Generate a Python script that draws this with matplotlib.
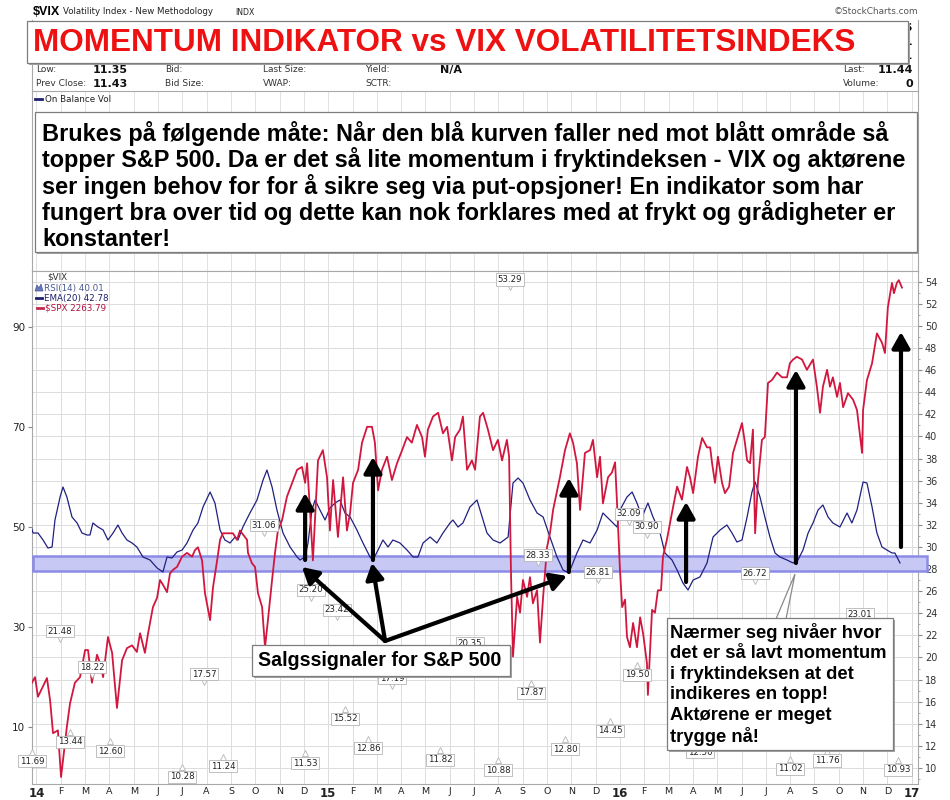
import matplotlib
matplotlib.use('Agg')
import matplotlib.pyplot as plt
from matplotlib.patches import Rectangle, Polygon, FancyArrowPatch
from matplotlib.lines import Line2D
from matplotlib.transforms import ScaledTranslation, blended_transform_factory

# ------------------------------------------------------------------ data
title = 'MOMENTUM INDIKATOR vs VIX VOLATILITETSINDEKS'
note_lines = [
    'Brukes på følgende måte: Når den blå kurven faller ned mot blått område så',
    'topper S&P 500. Da er det så lite momentum i fryktindeksen - VIX og aktørene',
    'ser ingen behov for for å sikre seg via put-opsjoner! En indikator som har',
    'fungert bra over tid og dette kan nok forklares med at frykt og grådigheter er',
    'konstanter!',
]
signal_text = 'Salgssignaler for S&P 500'
callout_lines = [
    'Nærmer seg nivåer hvor',
    'det er så lavt momentum',
    'i fryktindeksen at det',
    'indikeres en topp!',
    'Aktørene er meget',
    'trygge nå!',
]
years = ['14', '15', '16', '17']
month_letters = ['F', 'M', 'A', 'M', 'J', 'J', 'A', 'S', 'O', 'N', 'D']
x_labels = []
for yr in years[:-1]:
    x_labels += [yr] + month_letters
x_labels.append(years[-1])

vix_low = 11.35
vix_prev_close = 11.43
vix_last = 11.44
vix_volume = 0
rsi_last = 40.01
ema_last = 42.78
spx_last = 2263.79

# S&P 500 overlay (t = months since Jan 2014)
spx_t = [-0.19, -0.06, 0.06, 0.43, 0.56, 0.68, 0.88, 1.01, 1.25, 1.38,
         1.58, 1.79, 2.00, 2.12, 2.28, 2.49, 2.61, 2.74, 2.94, 3.11,
         3.31, 3.52, 3.72, 3.93, 4.13, 4.26, 4.46, 4.59, 4.79, 4.96,
         5.08, 5.20, 5.37, 5.49, 5.62, 5.78, 5.99, 6.19, 6.40, 6.52,
         6.64, 6.81, 6.93, 7.14, 7.26, 7.43, 7.55, 7.67, 7.88, 8.08,
         8.25, 8.37, 8.66, 8.70, 8.86, 8.99, 9.11, 9.28, 9.40, 9.52,
         9.69, 9.81, 9.93, 10.10, 10.30, 10.72, 10.92, 11.05, 11.13, 11.25,
         11.37, 11.58, 11.78, 11.95, 12.07, 12.20, 12.40, 12.61, 12.77, 12.90,
         13.02, 13.23, 13.39, 13.60, 13.80, 13.92, 14.05, 14.21, 14.42, 14.62,
         14.83, 15.04, 15.24, 15.44, 15.65, 15.86, 15.98, 16.10, 16.31, 16.52,
         16.72, 16.89, 17.09, 17.22, 17.42, 17.54, 17.71, 17.91, 18.04, 18.24,
         18.37, 18.57, 18.78, 18.98, 19.15, 19.35, 19.44, 19.52, 19.60, 19.77,
         19.89, 20.01, 20.18, 20.30, 20.42, 20.59, 20.71, 20.84, 21.00, 21.12,
         21.25, 21.53, 21.74, 21.94, 22.07, 22.23, 22.36, 22.56, 22.77, 22.89,
         23.06, 23.18, 23.30, 23.51, 23.67, 23.80, 23.88, 24.00, 24.09, 24.21,
         24.29, 24.41, 24.54, 24.70, 24.83, 24.95, 25.11, 25.15, 25.32, 25.44,
         25.56, 25.69, 25.77, 25.93, 26.14, 26.35, 26.55, 26.76, 26.88, 27.01,
         27.21, 27.38, 27.58, 27.71, 27.79, 27.91, 28.03, 28.20, 28.32, 28.49,
         28.65, 28.81, 29.02, 29.14, 29.23, 29.35, 29.47, 29.56, 29.68, 29.84,
         29.96, 30.09, 30.25, 30.46, 30.67, 30.87, 30.99, 31.12, 31.28, 31.49,
         31.69, 31.94, 32.10, 32.23, 32.35, 32.52, 32.64, 32.76, 32.93, 33.05,
         33.18, 33.38, 33.59, 33.75, 33.96, 34.00, 34.16, 34.37, 34.57, 34.78,
         34.90, 35.02, 35.19, 35.27, 35.39, 35.47, 35.60]
spx_v = [1842, 1848, 1827, 1847, 1823, 1788, 1791, 1741, 1795, 1820,
         1842, 1848, 1877, 1877, 1842, 1872, 1863, 1848, 1891, 1874,
         1815, 1866, 1879, 1882, 1875, 1895, 1874, 1895, 1923, 1933,
         1952, 1947, 1939, 1959, 1963, 1966, 1977, 1981, 1977, 1984,
         1987, 1973, 1938, 1909, 1944, 1973, 1995, 2002, 2002, 2002,
         1995, 2005, 1995, 1981, 1970, 1966, 1938, 1923, 1880, 1909,
         1952, 1981, 2005, 2016, 2041, 2070, 2073, 2056, 2077, 2027,
         1973, 2080, 2091, 2062, 2005, 2059, 1998, 2062, 2005, 2024,
         2056, 2070, 2099, 2116, 2116, 2099, 2048, 2070, 2084, 2059,
         2077, 2091, 2105, 2099, 2118, 2105, 2084, 2113, 2127, 2131,
         2109, 2116, 2080, 2105, 2113, 2127, 2070, 2080, 2070, 2127,
         2131, 2113, 2091, 2102, 2080, 2102, 2084, 1957, 1870, 1934,
         1917, 1952, 1934, 1955, 1927, 1941, 1885, 1934, 1987, 2002,
         2027, 2062, 2091, 2109, 2099, 2077, 2027, 2088, 2091, 2102,
         2062, 2084, 2034, 2062, 2067, 2078, 2034, 1963, 1923, 1931,
         1891, 1880, 1906, 1880, 1912, 1895, 1863, 1829, 1920, 1917,
         1941, 1941, 1977, 1995, 2024, 2052, 2038, 2073, 2062, 2045,
         2084, 2104, 2094, 2094, 2077, 2056, 2084, 2056, 2045, 2052,
         2088, 2102, 2120, 2099, 2080, 2077, 2113, 2002, 2059, 2102,
         2105, 2163, 2166, 2174, 2169, 2169, 2184, 2188, 2191, 2188,
         2177, 2188, 2159, 2131, 2159, 2177, 2159, 2169, 2148, 2163,
         2137, 2152, 2145, 2134, 2088, 2134, 2166, 2184, 2216, 2206,
         2195, 2244, 2270, 2259, 2270, 2273, 2265]

# EMA(20) of RSI(14) of VIX
ema_t = [-0.27, -0.14, 0.06, 0.27, 0.47, 0.64, 0.76, 0.97, 1.09, 1.25,
         1.46, 1.67, 1.87, 2.08, 2.20, 2.32, 2.53, 2.74, 2.94, 3.15,
         3.35, 3.52, 3.72, 3.93, 4.13, 4.38, 4.67, 4.96, 5.20, 5.37,
         5.57, 5.78, 5.99, 6.19, 6.44, 6.64, 6.85, 7.14, 7.34, 7.55,
         7.75, 7.96, 8.17, 8.29, 8.49, 8.78, 9.07, 9.32, 9.48, 9.69,
         9.89, 10.14, 10.43, 10.72, 10.84, 11.05, 11.17, 11.33, 11.46, 11.66,
         11.87, 12.07, 12.28, 12.48, 12.69, 12.90, 13.18, 13.43, 13.72, 13.84,
         14.05, 14.25, 14.46, 14.66, 14.95, 15.24, 15.49, 15.69, 15.90, 16.19,
         16.47, 16.72, 17.01, 17.13, 17.34, 17.54, 17.83, 18.12, 18.33, 18.53,
         18.78, 19.07, 19.40, 19.60, 19.81, 20.01, 20.30, 20.59, 20.84, 21.12,
         21.41, 21.66, 21.90, 22.23, 22.48, 22.77, 23.06, 23.30, 23.59, 23.88,
         24.00, 24.29, 24.50, 24.70, 24.91, 25.15, 25.36, 25.65, 25.85, 26.14,
         26.35, 26.59, 26.80, 27.01, 27.29, 27.58, 27.83, 28.12, 28.40, 28.61,
         28.81, 29.02, 29.23, 29.43, 29.56, 29.76, 29.96, 30.17, 30.38, 30.58,
         30.87, 31.12, 31.32, 31.53, 31.74, 31.94, 32.15, 32.35, 32.56, 32.76,
         33.05, 33.34, 33.54, 33.75, 34.00, 34.16, 34.37, 34.57, 34.78, 34.98,
         35.19, 35.31, 35.52]
ema_v = [50.8, 48.8, 48.8, 47.4, 45.8, 46.0, 51.4, 56.0, 58.0, 56.0,
         52.0, 50.8, 48.8, 48.4, 48.4, 50.8, 50.0, 49.4, 47.4, 48.8,
         50.4, 48.8, 47.4, 46.8, 46.0, 44.0, 43.4, 41.8, 41.0, 44.0,
         43.8, 45.0, 45.4, 46.8, 49.4, 50.8, 54.0, 57.0, 54.8, 49.4,
         47.4, 46.8, 48.0, 47.4, 50.0, 52.8, 55.4, 59.4, 61.4, 58.0,
         53.4, 48.8, 46.0, 44.0, 43.4, 44.0, 46.8, 53.4, 55.4, 53.4,
         51.4, 53.8, 54.8, 55.4, 52.8, 52.0, 49.4, 46.8, 44.0, 43.4,
         45.4, 47.4, 46.0, 47.4, 46.8, 45.4, 44.0, 44.0, 46.8, 48.0,
         46.8, 48.8, 50.8, 51.4, 50.0, 50.8, 54.0, 55.4, 52.0, 48.8,
         47.4, 46.8, 48.0, 58.8, 59.8, 58.8, 55.4, 52.8, 52.0, 48.0,
         44.0, 41.4, 40.8, 44.8, 47.4, 46.8, 49.4, 52.8, 51.4, 50.0,
         53.4, 56.0, 57.0, 54.8, 52.0, 54.8, 52.0, 48.8, 44.8, 43.4,
         41.4, 38.8, 37.4, 39.4, 40.0, 42.8, 48.0, 49.4, 50.4, 48.8,
         47.0, 47.4, 52.0, 57.0, 59.0, 56.0, 52.0, 48.0, 44.8, 44.0,
         43.4, 42.8, 43.4, 45.4, 48.8, 50.8, 53.4, 54.4, 52.0, 50.8,
         50.0, 52.8, 50.8, 53.4, 59.0, 58.8, 54.0, 48.8, 46.0, 45.4,
         44.8, 44.8, 42.8]

# VIX high / low price labels
vix_lab_t = [-0.19, 0.97, 1.38, 2.28, 3.02, 5.99, 6.89, 7.67, 9.36, 11.05,
             11.29, 12.36, 12.69, 13.64, 14.62, 16.60, 17.83, 18.98, 19.48, 20.34,
             20.63, 21.74, 23.10, 23.59, 24.37, 24.70, 25.11, 27.29, 29.56, 30.99,
             32.52, 33.88, 35.44]
vix_lab_v = [11.69, 21.48, 13.44, 18.22, 12.60, 10.28, 17.57, 11.24, 31.06, 11.53,
             25.20, 23.42, 15.52, 12.86, 17.19, 11.82, 20.35, 10.88, 53.29, 17.87,
             28.33, 12.80, 26.81, 14.45, 32.09, 19.50, 30.90, 12.50, 26.72, 11.02,
             11.76, 23.01, 10.93]
vix_lab_kind = ['L', 'H', 'L', 'H', 'L', 'L', 'H', 'L', 'H', 'L',
                'H', 'H', 'L', 'L', 'H', 'L', 'H', 'L', 'H', 'L',
                'H', 'L', 'H', 'L', 'H', 'L', 'H', 'L', 'H', 'L',
                'L', 'H', 'L']

# low-momentum band (RSI units)
band_lo, band_hi = 41.2, 44.2

# vertical signal arrows (RSI units)
sig_t = [11.05, 13.84, 21.90, 26.72, 31.24, 35.56]
sig_lo = [43.4, 43.4, 41.0, 39.0, 42.8, 46.0]
sig_hi = [56.8, 64.0, 59.8, 55.0, 81.4, 89.0]

# arrows from the "Salgssignaler" label
diag_origin = (14.34, 27.2)
diag_t = [10.92, 13.80, 21.82]
diag_v = [42.0, 42.8, 40.2]
callout_tip = (31.2, 40.6)

# ------------------------------------------------------------------ layout
W, H = 950, 800
fig = plt.figure(figsize=(9.5, 8), dpi=100)
fig.patch.set_facecolor('white')
plt.rcParams['font.family'] = ['DejaVu Sans']
BOLD = 'Liberation Sans'


def fx(x):
    return x / W


def fy(y):
    return 1 - y / H


def rect_px(x0, y0, x1, y1):
    return [fx(x0), fy(y1), (x1 - x0) / W, (y1 - y0) / H]


def fbox(x0, y0, x1, y1, z=10):
    fig.add_artist(Rectangle((fx(x0 + 2), fy(y1 + 2)), (x1 - x0) / W, (y1 - y0) / H,
                             transform=fig.transFigure, fc='#a3a3a3', ec='none', zorder=z))
    fig.add_artist(Rectangle((fx(x0), fy(y1)), (x1 - x0) / W, (y1 - y0) / H,
                             transform=fig.transFigure, fc='white', ec='#7d7d7d', lw=0.9,
                             zorder=z + 0.1))


X0, X1 = -0.185, 36.26
GRID = '#dcdcdc'
SPINE = '#a8a8a8'

# header
fig.text(fx(33), fy(12), '$VIX', fontsize=9, fontweight='bold', family=BOLD, va='center',
         parse_math=False)
fig.text(fx(63), fy(12), 'Volatility Index - New Methodology', fontsize=6.2, va='center', color='#222')
fig.text(fx(235), fy(12.5), 'INDX', fontsize=5.6, va='center', color='#222')
fig.text(fx(918), fy(12), '©StockCharts.com', fontsize=6.4, va='center', ha='right', color='#555')
for yy, val in [(28, '11.56'), (42, '11.61'), (56, '11.31')]:
    fig.text(fx(913), fy(yy), val, fontsize=8, fontweight='bold', ha='right', va='center', zorder=3)

r1, r2 = 70, 84
lab = dict(fontsize=6.5, va='center', color='#333')
valb = dict(fontsize=8, va='center', fontweight='bold', color='#111')
fig.text(fx(36), fy(r1), 'Low:', **lab)
fig.text(fx(128), fy(r1), f'{vix_low:.2f}', ha='right', **valb)
fig.text(fx(165), fy(r1), 'Bid:', **lab)
fig.text(fx(263), fy(r1), 'Last Size:', **lab)
fig.text(fx(365), fy(r1), 'Yield:', **lab)
fig.text(fx(440), fy(r1), 'N/A', **valb)
fig.text(fx(843), fy(r1), 'Last:', **lab)
fig.text(fx(913), fy(r1), f'{vix_last:.2f}', ha='right', **valb)
fig.text(fx(36), fy(r2), 'Prev Close:', **lab)
fig.text(fx(128), fy(r2), f'{vix_prev_close:.2f}', ha='right', **valb)
fig.text(fx(165), fy(r2), 'Bid Size:', **lab)
fig.text(fx(263), fy(r2), 'VWAP:', **lab)
fig.text(fx(365), fy(r2), 'SCTR:', **lab)
fig.text(fx(843), fy(r2), 'Volume:', **lab)
fig.text(fx(913), fy(r2), f'{vix_volume}', ha='right', **valb)
for xx in (32, 918):
    fig.add_artist(Line2D([fx(xx), fx(xx)], [fy(20), fy(91)], color=SPINE, lw=0.8))

# On Balance Volume panel (empty)
obv = fig.add_axes(rect_px(32, 91, 918, 271))
obv.set_xlim(X0, X1)
obv.set_ylim(0, 1)
obv.set_xticks(range(37))
obv.set_yticks([])
obv.tick_params(length=0, labelbottom=False)
obv.grid(axis='x', color='#e2e2e2', lw=0.7)
for s in obv.spines.values():
    s.set_color(SPINE)
    s.set_linewidth(0.8)
fig.text(fx(45), fy(99), 'On Balance Vol', fontsize=6.3, va='center', color='#222')
fig.add_artist(Line2D([fx(35), fx(42)], [fy(99), fy(99)], color='#1f1f6e', lw=2))

# main price panel: VIX scale on the right
main_rect = rect_px(32, 271, 918, 784)
axv = fig.add_axes(main_rect)
axv.set_xlim(X0, X1)
axv.set_ylim(8.552, 54.977)
axv.yaxis.tick_right()
axv.set_yticks(range(10, 55, 2))
axv.set_yticks(range(9, 55), minor=True)
axv.tick_params(axis='y', which='major', length=3, labelsize=7, labelcolor='#333', color='#888', pad=2)
axv.tick_params(axis='y', which='minor', length=1.5, color='#999')
axv.set_xticks(range(37))
axv.set_xticklabels(x_labels)
axv.tick_params(axis='x', length=0, pad=2.5, labelsize=6.8, labelcolor='#222')
for t in axv.get_xticklabels():
    if t.get_text() in years:
        t.set_fontweight('bold')
        t.set_fontsize(8.5)
axv.grid(True, which='major', color=GRID, lw=0.7)
axv.set_axisbelow(True)
for s in axv.spines.values():
    s.set_color(SPINE)
    s.set_linewidth(0.8)

# RSI / EMA scale on the left
ax = fig.add_axes(main_rect, sharex=axv)
ax.patch.set_visible(False)
ax.set_ylim(-1.4, 101.2)
ax.yaxis.tick_left()
ax.set_yticks([10, 30, 50, 70, 90])
ax.tick_params(axis='y', length=3, labelsize=7.5, labelcolor='#222', color='#888', pad=2)
ax.tick_params(axis='x', bottom=False, labelbottom=False)
for s in ax.spines.values():
    s.set_visible(False)
ax.add_patch(Rectangle((0.001, band_lo), 1.009, band_hi - band_lo,
                       transform=blended_transform_factory(ax.transAxes, ax.transData),
                       fc='#c8c8f5', ec='#8c8ce8', lw=1.8, clip_on=False, zorder=1))
ax.plot(ema_t, ema_v, color='#202080', lw=0.9, zorder=3)

# S&P 500 overlay on its own hidden scale
axs = fig.add_axes(main_rect, sharex=axv)
axs.axis('off')
axs.set_ylim(1733.6, 2282.8)
axs.plot(spx_t, spx_v, color='#d2173f', lw=1.3)

# annotation layer
axt = fig.add_axes(main_rect, sharex=axv)
axt.axis('off')
for t, v, k in zip(vix_lab_t, vix_lab_v, vix_lab_kind):
    dy = 7.3 if k == 'H' else -8.6
    mk = 'v' if k == 'H' else '^'
    off = ScaledTranslation(0, (1.6 if k == 'H' else -1.6) / 72, fig.dpi_scale_trans)
    axt.plot([t], [v], marker=mk, ms=4.5, mfc='white', mec='#b5b5b5', mew=0.6,
             transform=axv.transData + off, clip_on=False, zorder=4)
    axt.annotate(f'{v:.2f}', xy=(t, v), xycoords=axv.transData, xytext=(0, dy),
                 textcoords='offset points', ha='center', va='center', fontsize=6.2,
                 color='#222', annotation_clip=False, zorder=5,
                 bbox=dict(boxstyle='square,pad=0.18', fc='white', ec='#b5b5b5', lw=0.6))

arrow_kw = dict(arrowstyle='-|>,head_length=0.8,head_width=0.45', mutation_scale=12,
                lw=3, color='black', shrinkA=0, shrinkB=0, zorder=6)
for t, lo, hi in zip(sig_t, sig_lo, sig_hi):
    axt.add_artist(FancyArrowPatch((t, lo), (t, hi), transform=ax.transData, **arrow_kw))
for t, v in zip(diag_t, diag_v):
    axt.add_artist(FancyArrowPatch(diag_origin, (t, v), transform=ax.transData, **arrow_kw))

# legend of the price panel
leg = dict(fontsize=6.3, va='center', parse_math=False)
fig.text(fx(47), fy(277), '$VIX', color='#333', **leg)
fig.text(fx(44), fy(288), f'RSI(14) {rsi_last:.2f}', color='#4a5890', **leg)
fig.text(fx(44), fy(298), f'EMA(20) {ema_last:.2f}', color='#1f1f6e', **leg)
fig.text(fx(45), fy(308), f'$SPX {spx_last:.2f}', color='#b01040', **leg)
fig.add_artist(Polygon([(fx(35), fy(291)), (fx(37), fy(285)), (fx(39), fy(288)),
                        (fx(41), fy(284)), (fx(43), fy(291))],
                       closed=True, transform=fig.transFigure, fc='#6a78c0', ec='#4a5890', lw=0.5))
fig.add_artist(Line2D([fx(36), fx(42)], [fy(298), fy(298)], color='#1f1f6e', lw=2))
fig.add_artist(Line2D([fx(37), fx(43)], [fy(308), fy(308)], color='#c0284a', lw=2))

# title box
fbox(27, 21, 908, 63)
fig.text(fx(33), fy(43), title, fontsize=22.7, fontweight='bold', family=BOLD,
         color='#ee1111', va='center', zorder=11)

# explanation box
fbox(35, 112, 917, 252)
for i, line in enumerate(note_lines):
    fig.text(fx(42), fy(133 + 26.6 * i), line, fontsize=16.9, fontweight='bold',
             family=BOLD, va='center', zorder=11)

# sell-signal label
fbox(252, 645, 510, 676)
fig.text(fx(258), fy(661), signal_text, fontsize=14.1, fontweight='bold', family=BOLD,
         va='center', zorder=11)

# callout with tail
tip = fig.transFigure.inverted().transform(ax.transData.transform(callout_tip))
fig.add_artist(Polygon([(fx(776), fy(619)), (tip[0], tip[1]), (fx(786), fy(619))],
                       closed=True, transform=fig.transFigure, fc='white', ec='#8a8a8a',
                       lw=0.9, zorder=10.05))
fbox(667, 618, 893, 750)
for i, line in enumerate(callout_lines):
    fig.text(fx(670), fy(633 + 20.6 * i), line, fontsize=13.2, fontweight='bold',
             family=BOLD, va='center', zorder=11)

fig.savefig('out.png', dpi=100, facecolor='white')
